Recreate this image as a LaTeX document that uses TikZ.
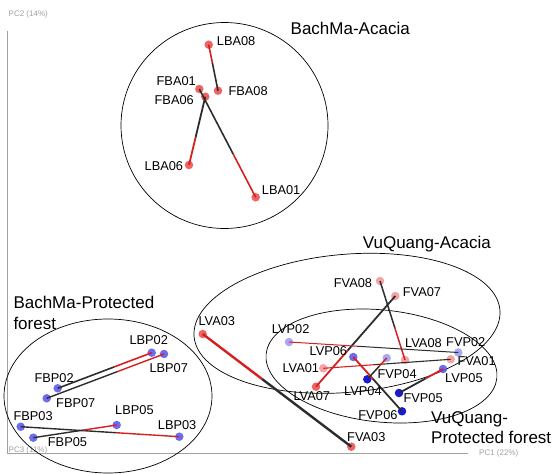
\documentclass[tikz,border=0pt]{standalone}
\usepackage{fontspec}
\setmainfont{Liberation Sans}
\usetikzlibrary{calc,shapes.geometric}
\definecolor{ptred}{RGB}{236,72,72}
\definecolor{ptblue}{RGB}{82,82,236}
\definecolor{lnred}{RGB}{214,32,32}
\definecolor{lnblack}{RGB}{45,45,45}
\definecolor{axisgray}{RGB}{160,160,160}
\tikzset{
  pt/.style={circle, inner sep=0pt, minimum size=8.5pt},
  rdot/.style={pt, fill=ptred, fill opacity=.85},
  rdotl/.style={pt, fill=ptred, fill opacity=.5},
  bdot/.style={pt, fill=ptblue, fill opacity=.85},
  bdotl/.style={pt, fill=ptblue, fill opacity=.5},
  bdotd/.style={pt, fill=blue!85!black, fill opacity=.9},
  smp/.style={inner sep=0pt, font=\fontsize{12.8}{14}\selectfont},
  grp/.style={inner sep=0pt, align=left, font=\fontsize{17}{20.8}\selectfont},
  axlab/.style={inner sep=0pt, text=axisgray, font=\fontsize{8}{9}\selectfont},
  site/.style={draw, ellipse, inner sep=0pt, line width=0.7pt},
  lred/.style={draw=lnred},
  lblack/.style={draw=lnblack},
}
\begin{document}
\begin{tikzpicture}[x=1pt,y=-1pt]
\useasboundingbox (0,0) rectangle (552,474);
% axes
\coordinate (ytop) at (7.7,30.7);
\coordinate (o) at (7.7,453);
\coordinate (xend) at (468,453);
\draw [axisgray, line width=0.8pt] (ytop) -- (o) -- (xend);
\node [axlab, anchor=base west] (pc2) at (8.5,16.3) {PC2 (14\%)};
\node [axlab, anchor=base west] (pc3) at (8.5,452) {PC3 (11\%)};
\node [axlab, anchor=base west] (pc1) at (479,455) {PC1 (22\%)};
%
% sites
\node [site, minimum width=207pt, minimum height=206pt] (bma) at (224.5,125.5) {};
\node [site, minimum width=307pt, minimum height=138pt, rotate=5] (vqa) at (347,323.3) {};
\node [site, minimum width=232pt, minimum height=112pt, rotate=-6] (vqp) at (381.5,366) {};
\node [site, minimum width=208pt, minimum height=154pt] (bmp) at (108,396) {};
%
% BachMa-Acacia
\node [rdot] (LBA08) at (208.7,44.7) {};
\node [rdot] (FBA08) at (218,90.7) {};
\node [rdot] (FBA01) at (199.3,89) {};
\node [rdot] (FBA06) at (205.3,96.7) {};
\node [rdot] (LBA06) at (189,165) {};
\node [rdot] (LBA01) at (255.7,197.3) {};
%
% BachMa-Protected forest
\node [bdot] (LBP02) at (151.7,352.7) {};
\node [bdot] (LBP07) at (164,354) {};
\node [bdot] (FBP02) at (57.7,388.3) {};
\node [bdot] (FBP07) at (46.7,398.3) {};
\node [bdot] (FBP03) at (20.7,426.7) {};
\node [bdot] (LBP05) at (116.7,425) {};
\node [bdot] (LBP03) at (179.3,436.7) {};
\node [bdot] (FBP05) at (33.3,437.7) {};
%
% VuQuang
\node [rdotl] (FVA08) at (380,281) {};
\node [rdotl] (FVA07) at (395.3,296) {};
\node [rdot] (LVA03) at (202.7,334) {};
\node [rdotl] (LVA08) at (405,360) {};
\node [rdotl] (FVA01) at (450.7,359.3) {};
\node [rdotl] (LVA01) at (323.3,368.3) {};
\node [rdot] (LVA07) at (316,386.7) {};
\node [rdot] (FVA03) at (351.3,446.7) {};
\node [bdotl] (LVP02) at (289,342) {};
\node [bdotl] (FVP02) at (458.3,352.5) {};
\node [bdot] (LVP06) at (353.3,357) {};
\node [bdotl] (LVP04) at (386.7,358) {};
\node [bdotd] (FVP04) at (367.3,379.3) {};
\node [bdot] (LVP05) at (443,369) {};
\node [bdotd] (FVP05) at (399,393) {};
\node [bdotd] (FVP06) at (402,411.3) {};
%
% leaf - fine root pairs
\foreach \l/\f/\w in {LBA08/FBA08/1.6, LBA06/FBA06/1.8, LBA01/FBA01/1.6,
    LBP02/FBP02/1.6, LBP07/FBP07/1.4, LBP03/FBP03/1.4, LBP05/FBP05/1.4,
    LVA03/FVA03/2.4, LVA08/FVA08/1.5, LVA07/FVA07/1.8, LVA01/FVA01/1.1,
    LVP02/FVP02/1.0, LVP06/FVP06/1.8, LVP04/FVP04/1.5, LVP05/FVP05/1.8}
{
  \draw [lred, line width=\w pt] (\l.center) -- ($(\l)!.4!(\f)$);
  \draw [lblack, line width=\w pt] ($(\l)!.4!(\f)$) -- (\f.center);
}
%
% labels
\node [smp, anchor=base west] (tLBA08) at (216.7,45.3) {LBA08};
\node [smp, anchor=base west] (tFBA08) at (228.3,95.3) {FBA08};
\node [smp, anchor=base east] (tFBA01) at (196,85.9) {FBA01};
\node [smp, anchor=base east] (tFBA06) at (194,104.6) {FBA06};
\node [smp, anchor=base east] (tLBA06) at (183.3,170.6) {LBA06};
\node [smp, anchor=base west] (tLBA01) at (261.7,194.6) {LBA01};
%
\node [smp, anchor=base west] (tLBP02) at (129.3,344.6) {LBP02};
\node [smp, anchor=base west] (tLBP07) at (149.3,372.9) {LBP07};
\node [smp, anchor=base west] (tFBP02) at (34.3,382.9) {FBP02};
\node [smp, anchor=base west] (tFBP07) at (56,407.9) {FBP07};
\node [smp, anchor=base west] (tFBP03) at (13.3,420.6) {FBP03};
\node [smp, anchor=base west] (tLBP05) at (115,414.6) {LBP05};
\node [smp, anchor=base west] (tLBP03) at (157.7,429.6) {LBP03};
\node [smp, anchor=base west] (tFBP05) at (47.7,446.3) {FBP05};
%
\node [smp, anchor=base east] (tFVA08) at (372.3,287.9) {FVA08};
\node [smp, anchor=base west] (tFVA07) at (402.7,296.6) {FVA07};
\node [smp, anchor=base west] (tLVA03) at (198.3,325.6) {LVA03};
\node [smp, anchor=base west] (tLVP02) at (271.7,333.9) {LVP02};
\node [smp, anchor=base west] (tFVP02) at (446,346.3) {FVP02};
\node [smp, anchor=base west] (tLVA08) at (405,347.3) {LVA08};
\node [smp, anchor=base west] (tFVA01) at (457.3,365.3) {FVA01};
\node [smp, anchor=base east] (tLVP06) at (347.3,355.3) {LVP06};
\node [smp, anchor=base east] (tLVA01) at (319.3,372.9) {LVA01};
\node [smp, anchor=base west] (tLVP05) at (445,382.9) {LVP05};
\node [smp, anchor=base west] (tFVP04) at (377.3,378.6) {FVP04};
\node [smp, anchor=base west] (tLVP04) at (344,395.3) {LVP04};
\node [smp, anchor=base west] (tLVA07) at (293.3,400.6) {LVA07};
\node [smp, anchor=base west] (tFVP05) at (403.3,402.3) {FVP05};
\node [smp, anchor=base east] (tFVP06) at (397.7,419.6) {FVP06};
\node [smp, anchor=base west] (tFVA03) at (347,441.3) {FVA03};
%
\node [grp, anchor=base west] (tbma) at (290.5,34.4) {BachMa-Acacia};
\node [grp, anchor=base west] (tvqa) at (362.7,248.4) {VuQuang-Acacia};
\node [grp, anchor=north west] (tbmp) at (13.3,296.2) {BachMa-Protected\\forest};
\node [grp, anchor=north west] (tvqp) at (431,411.1) {VuQuang-\\Protected forest};
\end{tikzpicture}
\end{document}
